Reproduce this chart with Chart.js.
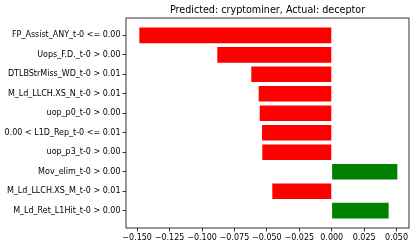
<!DOCTYPE html>
<html>
<head>
<meta charset="utf-8">
<script src="https://cdn.jsdelivr.net/npm/chart.js@4"></script>
<style>
  html, body { margin: 0; padding: 0; background: #fff; }
  #wrap { width: 416px; height: 248px; }
</style>
</head>
<body>
<div id="wrap"><canvas id="c"></canvas></div>
<script>
// feature rules, top to bottom
const features = [
  'FP_Assist_ANY_t-0 <= 0.00',
  'Uops_F.D._t-0 > 0.00',
  'DTLBStrMiss_WD_t-0 > 0.01',
  'M_Ld_LLCH.XS_N_t-0 > 0.01',
  'uop_p0_t-0 > 0.00',
  '0.00 < L1D_Rep_t-0 <= 0.01',
  'uop_p3_t-0 > 0.00',
  'Mov_elim_t-0 > 0.00',
  'M_Ld_LLCH.XS_M_t-0 > 0.01',
  'M_Ld_Ret_L1Hit_t-0 > 0.00'
];
const weights = [-0.1483, -0.0882, -0.0620, -0.0563, -0.0555, -0.0537, -0.0535, 0.0506, -0.0458, 0.0439];
const xTicks = [-0.150, -0.125, -0.100, -0.075, -0.050, -0.025, 0.000, 0.025, 0.050];

const fontFam = '"DejaVu Sans", sans-serif';

// box around the plot area, like matplotlib spines
const frame = {
  id: 'frame',
  afterDatasetsDraw(chart) {
    const a = chart.chartArea, ctx = chart.ctx;
    ctx.save();
    ctx.strokeStyle = '#000';
    ctx.lineWidth = 0.8;
    ctx.strokeRect(a.left, a.top, a.right - a.left, a.bottom - a.top);
    ctx.restore();
  }
};

new Chart(document.getElementById('c'), {
  type: 'bar',
  data: {
    datasets: [{
      data: weights.map((w, i) => ({ x: w, y: i })),
      backgroundColor: weights.map(w => w < 0 ? '#ff0000' : '#008000'),
      categoryPercentage: 1,
      barPercentage: 0.8
    }]
  },
  options: {
    indexAxis: 'y',
    responsive: true,
    maintainAspectRatio: false,
    animation: false,
    layout: { padding: { left: 0, right: 7, top: 0, bottom: 0 } },
    plugins: {
      legend: { display: false },
      tooltip: { enabled: false },
      title: {
        display: true,
        fullSize: false,
        text: 'Predicted: cryptominer, Actual: deceptor',
        color: '#000',
        font: { family: fontFam, size: 9.6, weight: 'normal' },
        padding: { top: 4.5, bottom: 2 }
      }
    },
    scales: {
      x: {
        type: 'linear',
        min: -0.1586,
        max: 0.0596,
        afterBuildTicks: s => { s.ticks = xTicks.map(v => ({ value: v })); },
        afterFit: s => { s.height = 20; },
        ticks: {
          color: '#000',
          font: { family: fontFam, size: 8 },
          padding: 2,
          maxRotation: 0,
          autoSkip: false,
          callback: v => (v < 0 ? '\u2212' : '') + Math.abs(v).toFixed(3)
        },
        grid: { drawOnChartArea: false, drawTicks: true, tickLength: 3.5, color: '#000', lineWidth: 0.8 },
        border: { display: false }
      },
      y: {
        type: 'linear',
        reverse: true,
        offset: false,
        min: -0.89,
        max: 9.89,
        afterBuildTicks: s => { s.ticks = features.map((_, i) => ({ value: i })); },
        afterFit: s => { s.width = 126; },
        ticks: {
          color: '#000',
          font: { family: fontFam, size: 8 },
          padding: 2,
          autoSkip: false,
          callback: v => features[v]
        },
        grid: { offset: false, drawOnChartArea: false, drawTicks: true, tickLength: 3.5, color: '#000', lineWidth: 0.8 },
        border: { display: false }
      }
    }
  },
  plugins: [frame]
});
</script>
</body>
</html>
